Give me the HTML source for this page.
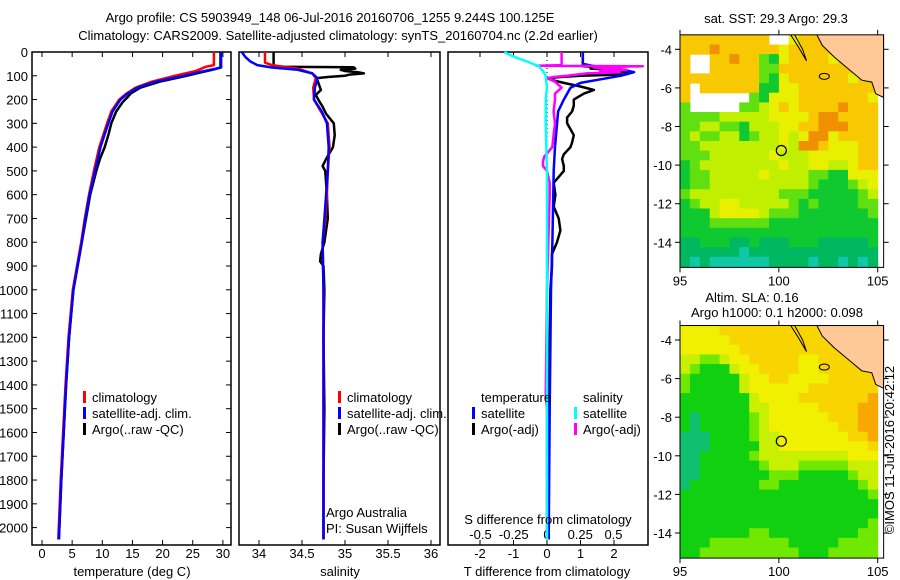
<!DOCTYPE html>
<html><head><meta charset="utf-8"><style>
html,body{margin:0;padding:0;background:#fff;}
svg{display:block;font-family:"Liberation Sans",sans-serif;}
text{font-size:13px;fill:#000;}
</style></head><body>
<svg id="chart" width="900" height="580" viewBox="0 0 900 580">
<text x="330" y="22" text-anchor="middle">Argo profile: CS 5903949_148 06-Jul-2016 20160706_1255 9.244S 100.125E</text>
<text x="338" y="40" text-anchor="middle">Climatology: CARS2009. Satellite-adjusted climatology: synTS_20160704.nc (2.2d earlier)</text>
<g id="layer"></g>
</svg>
<script>
// ---- profile data ----
const tcDepth=[0,55,62,80,100,125,150,175,200,250,300,400,500,600,700,800,900,1000,1200,1400,1600,1800,2050];
const tcVal=[28.5,28.5,27.2,25.5,22,18.2,15.5,14,12.8,11.5,10.8,9.5,8.6,7.8,7.1,6.5,5.8,5.1,4.4,3.9,3.5,3.1,2.7];
const tsDepth=[0,65,72,85,100,125,150,175,200,250,300,400,500,600,700,800,900,1000,1200,1400,1600,1800,2050];
const tsVal=[29.7,29.7,28.5,26,23.5,18.8,15.8,14.2,13.0,11.7,11.0,9.7,8.8,7.9,7.2,6.6,5.9,5.2,4.5,4.0,3.6,3.2,2.8];
const taDepth=[0,65,72,85,100,125,150,175,190,210,250,300,350,400,450,500,600,700,800,900,1000,1200,1400,1600,1800,2050];
const taVal=[29.6,29.6,28.7,26.5,24,19.5,16.3,14.7,14.2,13.4,12.3,11.5,11.0,10.4,9.6,9.0,8.0,7.3,6.6,5.9,5.2,4.5,4.0,3.6,3.2,2.8];
const scDepth=[0,45,55,70,90,110,150,200,250,300,400,500,600,700,800,1000,1200,1500,1800,2050];
const scVal=[34.07,34.07,34.15,34.45,34.62,34.66,34.63,34.64,34.72,34.8,34.82,34.8,34.79,34.77,34.74,34.75,34.75,34.75,34.75,34.75];
const ssDepth=[0,20,40,55,65,75,90,110,150,200,250,300,400,500,600,700,800,1000,1200,1500,1800,2050];
const ssVal=[33.8,33.84,33.9,33.98,34.15,34.45,34.62,34.68,34.65,34.64,34.73,34.79,34.81,34.8,34.78,34.76,34.74,34.75,34.75,34.75,34.75,34.75];
const saDepth=[0,62,64,70,75,80,85,90,95,100,105,110,120,140,160,180,200,230,260,300,350,400,450,480,500,550,600,700,800,850,880,900,1000,1200,1500,1800,2050];
const saVal=[34.17,34.17,35.1,35.12,34.95,35.0,35.15,35.22,35.05,35.0,34.8,34.66,34.68,34.7,34.72,34.66,34.69,34.74,34.78,34.87,34.88,34.86,34.78,34.74,34.77,34.78,34.79,34.8,34.76,34.72,34.71,34.75,34.76,34.75,34.76,34.75,34.75];
const dtsDepth=[0,50,65,75,85,100,115,130,150,200,250,400,500,800,1000,1500,2050];
const dtsVal=[1.07,1.07,1.6,2.3,2.6,2.2,1.6,1.0,0.7,0.5,0.33,0.24,0.2,0.16,0.12,0.08,0.05];
const dtaDepth=[0,60,65,70,75,80,85,90,95,100,105,110,120,130,145,160,175,200,225,250,275,300,325,350,380,400,430,450,480,500,550,600,650,700,750,800,850,900,1000,1200,1500,1800,2050];
const dtaVal=[1.07,1.07,1.8,1.3,2.0,1.6,2.4,1.7,2.2,1.0,0.4,0.0,0.2,0.5,1.0,1.4,1.1,0.8,0.8,0.75,0.6,0.6,0.7,0.8,0.75,0.7,0.5,0.45,0.5,0.5,0.2,0.25,0.2,0.35,0.4,0.3,0.15,0.15,0.1,0.08,0.06,0.05,0.05];
const dsaDepth=[0,55,58,60,62,65,70,75,80,85,90,100,105,110,125,150,175,200,250,300,350,400,440,460,480,500,550,600,800,1000,1450,1500,1550,2050];
const dsaVal=[0.11,0.11,-0.08,0.72,0.55,0.35,0.45,0.6,0.4,0.55,0.3,0.15,0.05,0.0,0.06,0.11,0.06,0.06,0.05,0.06,0.05,0.04,-0.02,-0.03,-0.03,0.0,0.02,0.02,0.01,0.0,-0.01,0.0,0.0,0.0];
const dssDepth=[0,20,40,60,80,100,150,200,300,500,1000,1500,2050];
const dssVal=[-0.32,-0.25,-0.15,-0.06,-0.03,-0.01,0.0,-0.01,-0.01,0.0,0.0,0.0,0.0];
const depthTicks=[0,100,200,300,400,500,600,700,800,900,1000,1100,1200,1300,1400,1500,1600,1700,1800,1900,2000];
const tTicks=[0,5,10,15,20,25,30];
const sTicks=[34,34.5,35,35.5,36];
const sTickLabels=["34","34.5","35","35.5","36"];
const dtTicks=[-2,-1,0,1,2];
const dsTicks=[-0.5,-0.25,0,0.25,0.5];
const dsTickLabels=["-0.5","-0.25","0","0.25","0.5"];
// ---- map data (0.5 deg cells, 95..105E, from -3.25 southward) ----
const sstGrid=[
"666666666..566666666","66676666665666666666","6..66766325666656666","6..66666336666666666",
"66666666325666666566","6.666666225566666666","6......3255566666665","3.....33456566667666",
"33334444455556776666","33443324445566777666","34334423445457756666","33444444445477655566",
"33344444454445555566","23444444445445544566","23344444544443322555","23344444444443222345",
"34444444443332222234","23445544444323222233","22245555433322222223","22233333322222222222",
"22222222222222222222","11222112111222111112","11111101111111111111","10100000011110110101"];
const slaGrid=[
"55556666666666666666","55555666666666666666","55555566666666666666","44334556666655666666",
"43222455666655666666","32222245566555566666","32222245555556666666","22222224555566666667",
"22222224455555666677","21222223455555566677","21222223455555556677","11122223445555555667",
"11122222445555555556","11222223444444444555","11222222344433333444","11222222233322222344",
"12222222332222222234","22222222222222222223","22222222222222222222","22222222222222222222",
"22222222222222222223","22222223322222222233","22233333333222223333","22333333333322233333"];
const sstColors=["#10c8a8","#00b860","#10c830","#60e010","#c0f000","#e8f000","#f8c800","#f09000"];
const slaColors=["#10c8a8","#10c070","#10d010","#70e800","#c8f000","#f0f000","#f8d400","#f8a800"];
const landLon=[101.9,102.2,102.8,103.5,104.2,104.7,104.9,105.3,105.3];
const landLat=[-3.2,-3.8,-4.4,-5.0,-5.6,-5.7,-6.3,-6.5,-3.2];
const argoLon=100.125, argoLat=-9.244;
const lonTicks=[95,100,105];
const latTicks=[-4,-6,-8,-10,-12,-14];

const NS="http://www.w3.org/2000/svg";
const L=document.getElementById('layer');
function mk(tag,attrs,parent){const e=document.createElementNS(NS,tag);for(const k in attrs)e.setAttribute(k,attrs[k]);(parent||L).appendChild(e);return e;}
function txt(x,y,s,anchor,parent){const e=mk('text',{x:x,y:y,'text-anchor':anchor||'middle'},parent);e.textContent=s;return e;}

const Y=d=>52+d*0.2378;
const xT=t=>42+t*6.03;
const xS=s=>259+(s-34)*86;
const xdT=v=>547+v*33.5;
const xdS=v=>547+v*133;

function frame(x0,x1,name){
  const r=mk('rect',{x:x0,y:52,width:x1-x0,height:493,fill:'none',stroke:'#000','stroke-width':1.5});
  
  
}
function line(depths,vals,fx,color,name,w){
  const pts=depths.map((d,i)=>fx(vals[i]).toFixed(1)+','+Y(d).toFixed(1)).join(' ');
  const p=mk('polyline',{points:pts,fill:'none',stroke:color,'stroke-width':w||2.5,'stroke-linejoin':'round'});
  
  
}
function xticks(ticks,labels,fx,ylab,top,name){
  ticks.forEach((t,i)=>{
    const x=fx(t);
    mk('line',{x1:x,x2:x,y1:545,y2:540,stroke:'#000'});
    if(top) mk('line',{x1:x,x2:x,y1:52,y2:57,stroke:'#000'});
    const e=txt(x,ylab,labels[i]);
    
    
  });
}
function legendEntry(x,y,color,label,name){
  mk('rect',{x:x,y:y-11,width:3,height:12,fill:color});
  const e=txt(x+9,y,label,'start');
  
  
}

// Panel 1
frame(32,231,'temperature-panel');
depthTicks.forEach(d=>{
  mk('line',{x1:32,x2:37,y1:Y(d),y2:Y(d),stroke:'#000'});
  mk('line',{x1:231,x2:226,y1:Y(d),y2:Y(d),stroke:'#000'});
  const e=txt(28,Y(d)+5,String(d),'end');
  
  
});
xticks(tTicks,tTicks.map(String),xT,558,true,'temperature-tick-label');
line(taDepth,taVal,xT,'#000','temperature-argo-line');
line(tcDepth,tcVal,xT,'#ff0000','temperature-climatology-line');
line(tsDepth,tsVal,xT,'#0000ff','temperature-satellite-line');
legendEntry(83,402,'#ff0000','climatology','legend-climatology');
legendEntry(83,418,'#0000ff','satellite-adj. clim.','legend-satellite');
legendEntry(83,434,'#000','Argo(..raw -QC)','legend-argo');
let a=txt(132,576,'temperature (deg C)');



// Panel 2
frame(239,440,'salinity-panel');
xticks(sTicks,sTickLabels,xS,558,true,'salinity-tick-label');
line(saDepth,saVal,xS,'#000','salinity-argo-line');
line(scDepth,scVal,xS,'#ff0000','salinity-climatology-line');
line(ssDepth,ssVal,xS,'#0000ff','salinity-satellite-line');
legendEntry(338,402,'#ff0000','climatology','legend-climatology');
legendEntry(338,418,'#0000ff','satellite-adj. clim.','legend-satellite');
legendEntry(338,434,'#000','Argo(..raw -QC)','legend-argo');
a=txt(326,517,'Argo Australia','start');


a=txt(326,533,'PI: Susan Wijffels','start');


a=txt(340,576,'salinity');



// Panel 3
frame(448,648,'difference-panel');
xticks(dtTicks,dtTicks.map(String),xdT,558,true,'t-difference-tick-label');
dsTicks.forEach((t,i)=>{
  const e=txt(xdS(t),539,dsTickLabels[i]);
  
  
});
mk('line',{x1:547,x2:547,y1:52,y2:545,stroke:'#000','stroke-dasharray':'1,3'});
line(dtaDepth,dtaVal,xdT,'#000','t-diff-argo-line');
line(dtsDepth,dtsVal,xdT,'#0000ff','t-diff-satellite-line');
line(dsaDepth,dsaVal,xdS,'#ff00ff','s-diff-argo-line');
line(dssDepth,dssVal,xdS,'#00ffff','s-diff-satellite-line');
a=txt(481,402,'temperature','start');


a=txt(583,402,'salinity','start');


legendEntry(472,418,'#0000ff','satellite','legend-t-satellite');
legendEntry(472,434,'#000','Argo(-adj)','legend-t-argo');
legendEntry(574,418,'#00ffff','satellite','legend-s-satellite');
legendEntry(574,434,'#ff00ff','Argo(-adj)','legend-s-argo');
a=txt(548,524,'S difference from climatology');


a=txt(547,576,'T difference from climatology');



// Maps
function drawMap(yOff,grid,colors,name){
  const lx=v=>680+(v-95)*19.77;
  const ly=v=>yOff+(-4-v)*19.3;
  const top=-3.25, bottom=-15.3;
  const g=mk('g',{});
  
  
  const cp='clip'+Math.round(yOff);
  const defs=mk('defs',{},g);
  const c=mk('clipPath',{id:cp},defs);
  mk('rect',{x:lx(95),y:ly(top),width:lx(105.3)-lx(95),height:ly(bottom)-ly(top)},c);
  const cg=mk('g',{'clip-path':'url(#'+cp+')'},g);
  grid.forEach((row,r)=>{
    for(let k=0;k<20;k++){
      const ch=row[Math.min(k,row.length-1)];
      if(ch==='.') continue;
      const lon0=95+k*0.5, lat0=top-r*0.5;
      const cell=mk('rect',{x:lx(lon0).toFixed(1),y:ly(lat0).toFixed(1),width:10.4,height:10.2,fill:colors[+ch]},cg);
      
      
    }
  });
  const lp=landLon.map((v,i)=>lx(v).toFixed(1)+','+ly(landLat[i]).toFixed(1)).join(' ');
  const land=mk('polygon',{points:lp,fill:'#ffc896',stroke:'#000','stroke-width':1},cg);
  
  
  mk('polyline',{points:[lx(100.6),ly(-3.25),lx(101.0),ly(-3.9),lx(101.4),ly(-4.6),lx(101.2),ly(-4.0),lx(100.8),ly(-3.25)].join(' '),fill:'none',stroke:'#000'},cg);
  mk('ellipse',{cx:lx(102.3),cy:ly(-5.4),rx:5,ry:3,fill:'none',stroke:'#000'},cg);
  const circ=mk('circle',{cx:lx(argoLon),cy:ly(argoLat),r:5,fill:'none',stroke:'#000','stroke-width':1.2},g);
  
  
  mk('rect',{x:lx(95),y:ly(top),width:lx(105.3)-lx(95),height:ly(bottom)-ly(top),fill:'none',stroke:'#000'},g);
  lonTicks.forEach(v=>{
    mk('line',{x1:lx(v),x2:lx(v),y1:ly(bottom),y2:ly(bottom)+5,stroke:'#000'},g);
    mk('line',{x1:lx(v),x2:lx(v),y1:ly(top),y2:ly(top)-5,stroke:'#000'},g);
    const e=txt(lx(v),ly(bottom)+18,String(v),'middle',g);
    
    
  });
  latTicks.forEach(v=>{
    mk('line',{x1:lx(95)-5,x2:lx(95),y1:ly(v),y2:ly(v),stroke:'#000'},g);
    mk('line',{x1:lx(105.3),x2:lx(105.3)+5,y1:ly(v),y2:ly(v),stroke:'#000'},g);
    const e=txt(672,ly(v)+5,String(v),'end',g);
    
    
  });
}
drawMap(49.3,sstGrid,sstColors,'sst-map');
drawMap(340,slaGrid,slaColors,'sla-map');
a=txt(776,23,'sat. SST: 29.3 Argo: 29.3');


a=txt(752,302,'Altim. SLA: 0.16');


a=txt(777,317,'Argo h1000: 0.1 h2000: 0.098');


a=mk('text',{x:0,y:0,'text-anchor':'middle',transform:'translate(894,450) rotate(-90)'});
a.textContent='©IMOS 11-Jul-2016 20:42:12';


</script>
</body></html>
